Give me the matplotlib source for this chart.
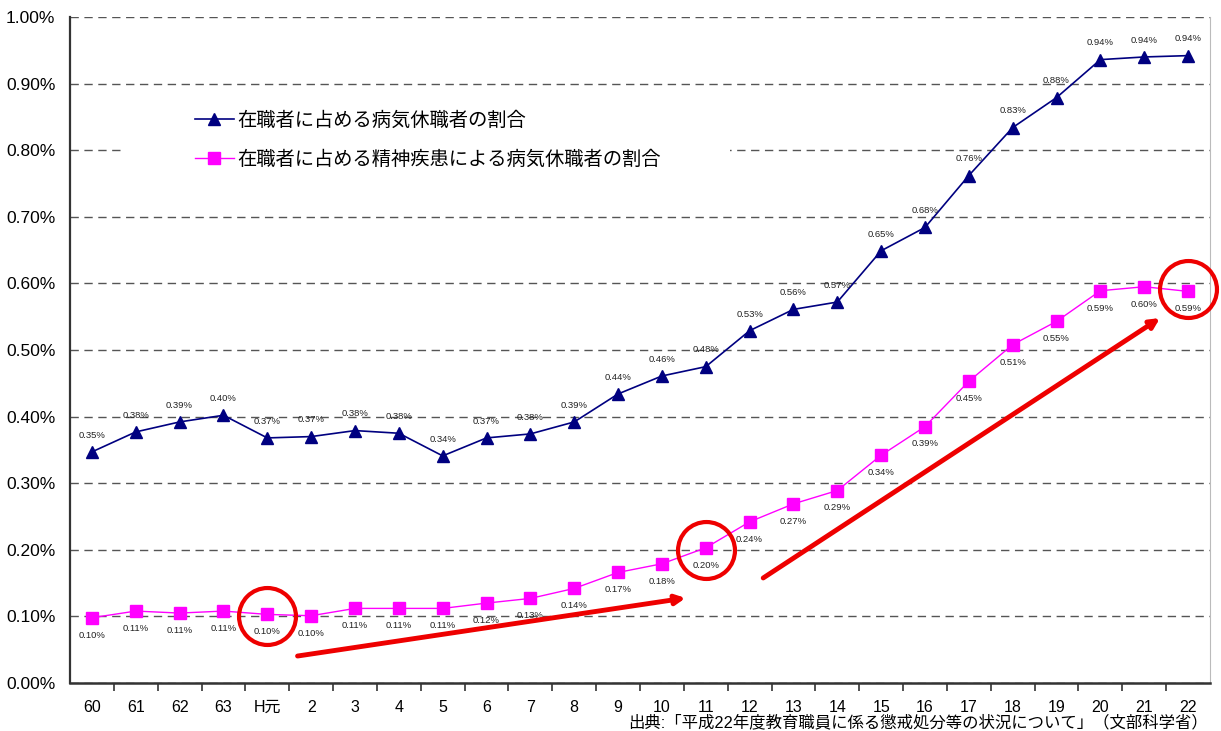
import matplotlib.pyplot as plt
from matplotlib.patches import Rectangle

plt.rcParams['font.family'] = ['Liberation Sans', 'Noto Sans CJK JP', 'DejaVu Sans']

years = ['60', '61', '62', '63', 'H元', '2', '3', '4', '5', '6', '7', '8', '9', '10',
         '11', '12', '13', '14', '15', '16', '17', '18', '19', '20', '21', '22']

# plotted values (%) and the printed labels
sick = [0.347, 0.377, 0.392, 0.402, 0.368, 0.370, 0.379, 0.375, 0.341, 0.368, 0.374, 0.392, 0.434,
        0.461, 0.475, 0.529, 0.561, 0.572, 0.649, 0.684, 0.762, 0.834, 0.879, 0.936, 0.940, 0.942]
sick_lbl = ['0.35', '0.38', '0.39', '0.40', '0.37', '0.37', '0.38', '0.38', '0.34', '0.37', '0.38',
            '0.39', '0.44', '0.46', '0.48', '0.53', '0.56', '0.57', '0.65', '0.68', '0.76', '0.83',
            '0.88', '0.94', '0.94', '0.94']
mental = [0.098, 0.108, 0.105, 0.108, 0.103, 0.101, 0.112, 0.112, 0.112, 0.120, 0.127, 0.142, 0.166,
          0.179, 0.203, 0.242, 0.269, 0.289, 0.342, 0.385, 0.453, 0.508, 0.543, 0.589, 0.595, 0.588]
mental_lbl = ['0.10', '0.11', '0.11', '0.11', '0.10', '0.10', '0.11', '0.11', '0.11', '0.12', '0.13',
              '0.14', '0.17', '0.18', '0.20', '0.24', '0.27', '0.29', '0.34', '0.39', '0.45', '0.51',
              '0.55', '0.59', '0.60', '0.59']

label_sick = '在職者に占める病気休職者の割合'
label_mental = '在職者に占める精神疾患による病気休職者の割合'
source = '出典:「平成22年度教育職員に係る懲戒処分等の状況について」（文部科学省）'

# red highlight circles (category index, value) and arrows
circles = [(4, 0.1006), (14, 0.1997), (25, 0.5916)]
arrows = [((4.69, 0.0405), (13.54, 0.1276)), ((15.31, 0.1577), (24.36, 0.548))]

fig = plt.figure(figsize=(12.21, 7.31), dpi=100)
ax = fig.add_axes([70/1221, 1-683/731, 1140/1221, 666/731])

x = list(range(len(years)))
ax.plot(x, sick, color='#000080', lw=1.2, marker='^', ms=9, zorder=4, label=label_sick)
ax.plot(x, mental, color='#FF00FF', lw=1.0, marker='s', ms=8.5, zorder=4, label=label_mental)

for i in x:
    ax.annotate(sick_lbl[i] + '%', (i, sick[i]), xytext=(0, 12), textcoords='offset points',
                ha='center', va='center', fontsize=6.8, color='#222222', zorder=5)
    ax.annotate(mental_lbl[i] + '%', (i, mental[i]), xytext=(0, -12.5), textcoords='offset points',
                ha='center', va='center', fontsize=6.8, color='#222222', zorder=5)

for cx, cy in circles:
    ax.plot(cx, cy, marker='o', ms=41, mfc='none', mec='#EE0000', mew=3, zorder=6, clip_on=False)
for (x0, y0), (x1, y1) in arrows:
    ax.annotate('', xy=(x1, y1), xytext=(x0, y0),
                arrowprops=dict(arrowstyle='-|>', color='#EE0000', lw=3.5, mutation_scale=14,
                                shrinkA=0, shrinkB=0), zorder=6)

ax.set_xlim(-0.5, len(years) - 0.5)
ax.set_ylim(0, 1.0)
ax.set_xticks([i + 0.5 for i in range(len(years) - 1)], minor=False)
ax.set_xticklabels([])
ax.set_xticks(x, minor=True)
ax.set_xticklabels(years, minor=True, fontsize=11.5)
ax.tick_params(axis='x', which='major', length=6, width=1.2, color='#333333', direction='out')
ax.tick_params(axis='x', which='minor', length=0, pad=12)
yt = [i / 10 for i in range(11)]
ax.set_yticks(yt)
ax.set_yticklabels([f'{v:.2f}%' for v in yt], fontsize=12.5)
ax.tick_params(axis='y', length=0, pad=10.5)

ax.grid(axis='y', linestyle=(0, (6, 4)), color='#555555', lw=1.0)
ax.set_axisbelow(True)
ax.spines['top'].set_visible(False)
ax.spines['right'].set_color('#BBBBBB')
ax.spines['left'].set_color('#333333')
ax.spines['left'].set_linewidth(1.6)
ax.spines['bottom'].set_color('#333333')
ax.spines['bottom'].set_linewidth(1.8)

# white patch behind legend hides the gridline
ax.add_patch(Rectangle((55/1140, (683-178)/666), 605/1140, 83/666, transform=ax.transAxes,
                       facecolor='white', edgecolor='none', zorder=1))
ax.legend(loc='center left', bbox_to_anchor=((195-70)/1140, (683-140)/666), frameon=False,
          fontsize=13.9, handlelength=2.0, handletextpad=0.2, labelspacing=1.1,
          borderpad=0, borderaxespad=0)

fig.text(1208/1221, 1-722/731, source, ha='right', va='center', fontsize=11.8)

plt.savefig('out.png')
